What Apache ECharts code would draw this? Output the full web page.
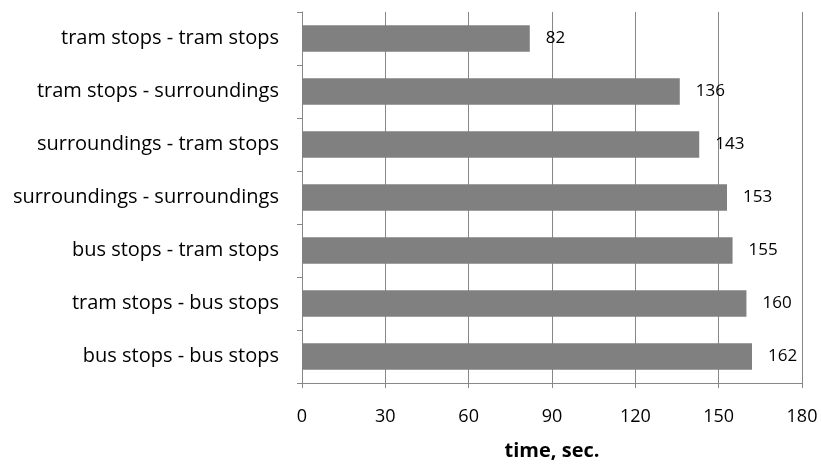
<!DOCTYPE html>
<html>
<head>
<meta charset="utf-8">
<script src="https://cdn.jsdelivr.net/npm/echarts@6/dist/echarts.min.js"></script>
<style>
  html, body { margin: 0; padding: 0; background: #fff; }
  #chart { width: 821px; height: 467px; }
</style>
</head>
<body>
<div id="chart"></div>
<script>
// Travel-time categories (top to bottom) and their times in seconds
const categories = [
  'tram stops - tram stops',
  'tram stops - surroundings',
  'surroundings - tram stops',
  'surroundings - surroundings',
  'bus stops - tram stops',
  'tram stops - bus stops',
  'bus stops - bus stops'
];
const times = [82, 136, 143, 153, 155, 160, 162];
const axisTitle = 'time, sec.';

const FONT = '"Open Sans", sans-serif';
const chart = echarts.init(document.getElementById('chart'), null, { renderer: 'canvas' });

chart.setOption({
  animation: false,
  backgroundColor: '#ffffff',
  grid: { left: 302, right: 19, top: 12, bottom: 84, containLabel: false },
  xAxis: {
    type: 'value',
    min: 0, max: 180, interval: 30,
    name: axisTitle,
    nameLocation: 'middle',
    nameGap: 58,
    nameTextStyle: { fontFamily: FONT, fontSize: 20, fontWeight: 'bold', color: '#000' },
    axisLine: { show: true, lineStyle: { color: '#878787', width: 1 } },
    axisTick: { show: true, length: 5, lineStyle: { color: '#878787' } },
    axisLabel: { fontFamily: FONT, fontSize: 18, color: '#000', margin: 25 },
    splitLine: { show: true, lineStyle: { color: '#878787', width: 1 } }
  },
  yAxis: {
    type: 'category',
    data: categories,
    inverse: true,
    axisLine: { show: true, lineStyle: { color: '#878787', width: 1 } },
    axisTick: { show: true, length: 5, inside: false, lineStyle: { color: '#878787' } },
    axisLabel: { fontFamily: FONT, fontSize: 20, color: '#000', margin: 23 },
    splitLine: { show: false }
  },
  series: [{
    type: 'bar',
    data: times,
    barWidth: '50%',
    itemStyle: { color: '#808080' },
    label: {
      show: true,
      position: 'right',
      distance: 16,
      fontFamily: FONT,
      fontSize: 17,
      color: '#000'
    }
  }]
});
</script>
</body>
</html>
